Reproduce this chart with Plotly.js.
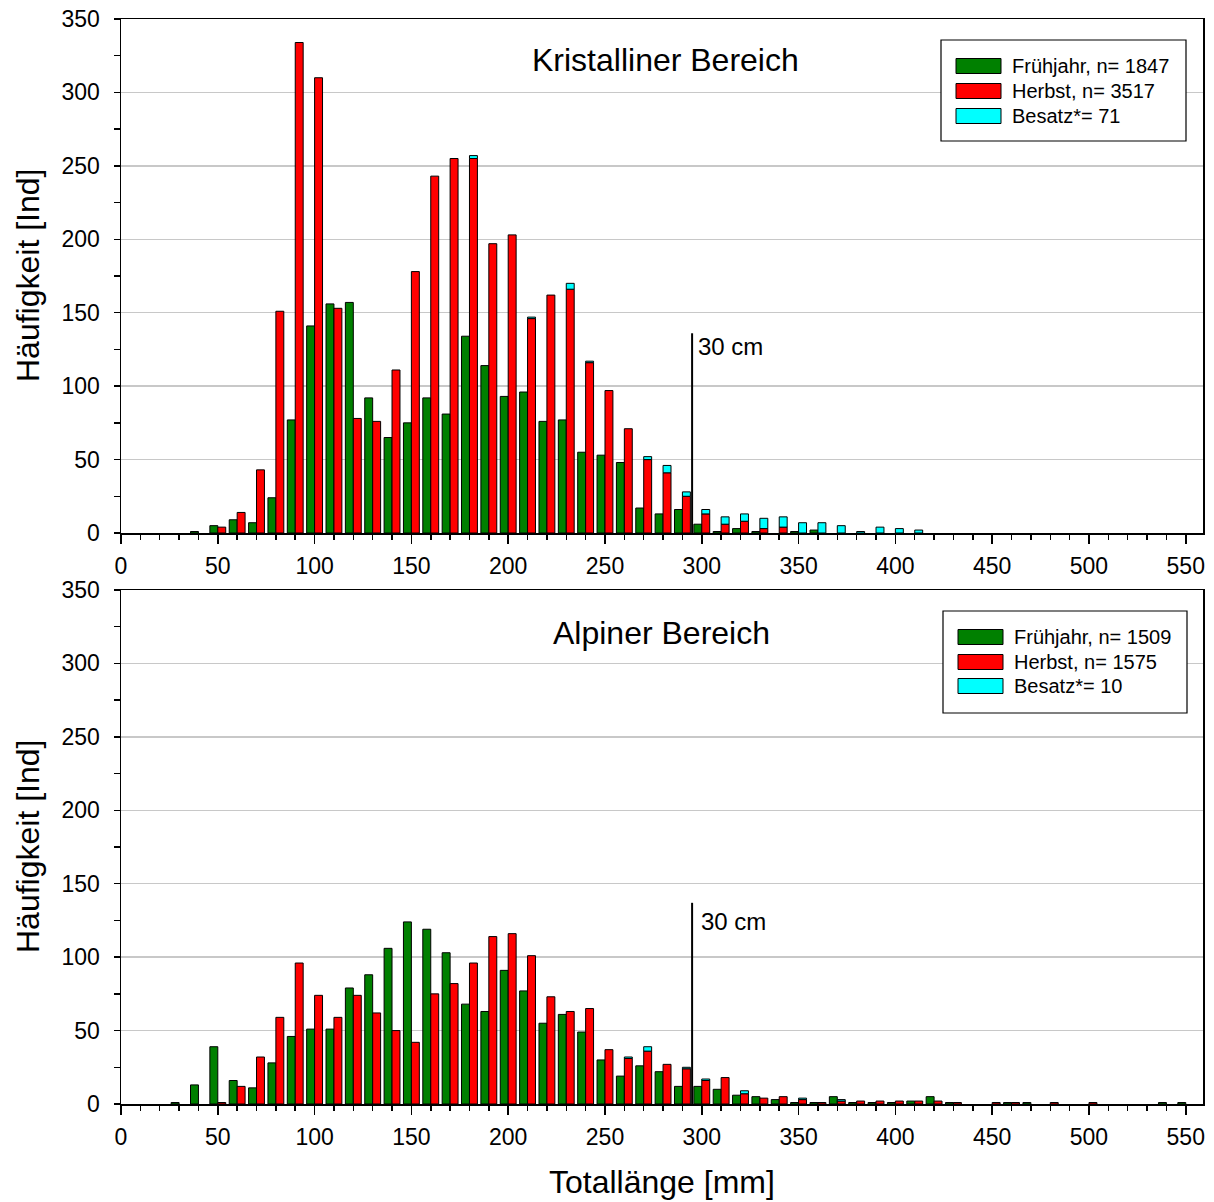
<!DOCTYPE html>
<html>
<head>
<meta charset="utf-8">
<script src="https://cdn.plot.ly/plotly-3.0.1.min.js"></script>
<style>
  html, body { margin: 0; padding: 0; background: #ffffff; }
  #chart { width: 1214px; height: 1202px; }
</style>
</head>
<body>
<div id="chart"></div>
<script>
// Längenklassen (Klassenmitte, mm)
const laengeKlassen = [30, 40, 50, 60, 70, 80, 90, 100, 110, 120, 130, 140, 150, 160, 170, 180,
  190, 200, 210, 220, 230, 240, 250, 260, 270, 280, 290, 300, 310, 320, 330, 340, 350, 360, 370,
  380, 390, 400, 410, 420, 430, 440, 450, 460, 470, 480, 490, 500, 510, 520, 530, 540, 550];

// Kristalliner Bereich – Häufigkeiten je Längenklasse
const kristFruehjahr = [0, 1, 5, 9, 7, 24, 77, 141, 156, 157, 92, 65, 75, 92, 81, 134,
  114, 93, 96, 76, 77, 55, 53, 48, 17, 13, 16, 6, 1, 3, 1, 0, 1, 2, 0,
  0, 0, 0, 0, 0, 0, 0, 0, 0, 0, 0, 0, 0, 0, 0, 0, 0, 0];
const kristHerbst = [0, 0, 4, 14, 43, 151, 334, 310, 153, 78, 76, 111, 178, 243, 255, 255,
  197, 203, 146, 162, 166, 116, 97, 71, 50, 41, 25, 13, 6, 8, 3, 4, 0, 0, 0,
  0, 0, 0, 0, 0, 0, 0, 0, 0, 0, 0, 0, 0, 0, 0, 0, 0, 0];
const kristBesatz = [0, 0, 0, 0, 0, 0, 0, 0, 0, 0, 0, 0, 0, 0, 0, 2,
  0, 0, 1, 0, 4, 1, 0, 0, 2, 5, 3, 3, 5, 5, 7, 7, 7, 7, 5,
  1, 4, 3, 2, 0, 0, 0, 0, 0, 0, 0, 0, 0, 0, 0, 0, 0, 0];

// Alpiner Bereich – Häufigkeiten je Längenklasse
const alpFruehjahr = [1, 13, 39, 16, 11, 28, 46, 51, 51, 79, 88, 106, 124, 119, 103, 68,
  63, 91, 77, 55, 61, 49, 30, 19, 26, 22, 12, 12, 10, 6, 5, 3, 1, 1, 5,
  1, 1, 1, 2, 5, 1, 0, 0, 1, 1, 0, 0, 0, 0, 0, 0, 1, 1];
const alpHerbst = [0, 0, 1, 12, 32, 59, 96, 74, 59, 74, 62, 50, 42, 75, 82, 96,
  114, 116, 101, 73, 63, 65, 37, 31, 36, 27, 24, 16, 18, 7, 4, 5, 3, 1, 2,
  2, 2, 2, 2, 2, 1, 0, 1, 1, 0, 1, 0, 1, 0, 0, 0, 0, 0];
const alpBesatz = [0, 0, 0, 0, 0, 0, 0, 0, 0, 0, 0, 0, 0, 0, 0, 0,
  0, 0, 0, 0, 0, 0, 0, 1, 3, 0, 1, 1, 0, 2, 0, 0, 1, 0, 1,
  0, 0, 0, 0, 0, 0, 0, 0, 0, 0, 0, 0, 0, 0, 0, 0, 0, 0];

// Texte
const panelTitel = ["Kristalliner Bereich", "Alpiner Bereich"];
const legendeKrist = ["Frühjahr, n= 1847", "Herbst, n= 3517", "Besatz*= 71"];
const legendeAlp = ["Frühjahr, n= 1509", "Herbst, n= 1575", "Besatz*= 10"];
const yTitel = "Häufigkeit [Ind]";
const xTitel = "Totallänge [mm]";
const grenzeMm = 295;
const grenzeText = "30 cm";

const FONT = "Liberation Sans, Arial, Helvetica, sans-serif";
const GRUEN = "#008000", ROT = "#ff0000", CYAN = "#00ffff";
const BAR_W = 4.1;

// Nullwerte nicht zeichnen
const ohneNull = arr => arr.map(v => (v > 0 ? v : null));

function balken(werte, farbe, xa, ya, offset, basis) {
  const t = {
    type: "bar",
    x: laengeKlassen,
    y: ohneNull(werte),
    xaxis: xa, yaxis: ya,
    width: BAR_W,
    offset: offset,
    marker: { color: farbe, line: { color: "#000000", width: 1 } },
    showlegend: false,
    hoverinfo: "x+y"
  };
  if (basis) t.base = basis;
  return t;
}

const data = [
  balken(kristFruehjahr, GRUEN, "x", "y", -BAR_W, null),
  balken(kristHerbst, ROT, "x", "y", 0, null),
  balken(kristBesatz, CYAN, "x", "y", 0, kristHerbst),
  balken(alpFruehjahr, GRUEN, "x2", "y2", -BAR_W, null),
  balken(alpHerbst, ROT, "x2", "y2", 0, null),
  balken(alpBesatz, CYAN, "x2", "y2", 0, alpHerbst)
];

// Pixel -> Papierkoordinaten
const L = 121, R = 1203, T = 19, B = 1104;
const px = p => (p - L) / (R - L);
const py = p => (B - p) / (B - T);

function xAchse(anchor, domain) {
  return {
    anchor: anchor, domain: domain,
    range: [0, 558.9],
    tick0: 0, dtick: 50,
    ticks: "outside", ticklen: 9, tickwidth: 1.5, tickcolor: "#000",
    minor: { tick0: 0, dtick: 10, ticks: "outside", ticklen: 5, tickwidth: 1.5, tickcolor: "#000", showgrid: false },
    showline: true, linecolor: "#000", linewidth: 1.5, mirror: true,
    showgrid: false, zeroline: false,
    tickfont: { family: FONT, size: 23, color: "#000" },
    ticklabelstandoff: 3,
    fixedrange: true
  };
}
function yAchse(anchor, domain) {
  return {
    anchor: anchor, domain: domain,
    range: [0, 350],
    tick0: 0, dtick: 50,
    ticks: "outside", ticklen: 6, tickwidth: 1.5, tickcolor: "#000",
    minor: { tick0: 0, dtick: 25, ticks: "outside", ticklen: 6, tickwidth: 1.5, tickcolor: "#000", showgrid: false },
    showline: true, linecolor: "#000", linewidth: 1.5, mirror: true,
    showgrid: true, gridcolor: "#c8c8c8", gridwidth: 1.5,
    zeroline: false,
    tickfont: { family: FONT, size: 23, color: "#000" },
    ticklabelstandoff: 9,
    fixedrange: true
  };
}

const domOben = [py(533), 1];
const domUnten = [0, py(590)];

const shapes = [];
const annotations = [];

// 30-cm-Markierung
[["x", "y", 136, 297, 127], ["x2", "y2", 137, 298.5, 124]].forEach(([xa, ya, yTop, tx, ty]) => {
  shapes.push({ type: "line", xref: xa, yref: ya, x0: grenzeMm, x1: grenzeMm, y0: 0, y1: yTop,
    line: { color: "#000", width: 2 } });
  annotations.push({ xref: xa, yref: ya, x: tx, y: ty, text: grenzeText, showarrow: false,
    xanchor: "left", yanchor: "middle", font: { family: FONT, size: 24, color: "#000" } });
});

// Panel-Überschriften
annotations.push({ xref: "paper", yref: "paper", x: px(665.5), y: py(60), text: panelTitel[0],
  showarrow: false, xanchor: "center", yanchor: "middle", font: { family: FONT, size: 32, color: "#000" } });
annotations.push({ xref: "paper", yref: "paper", x: px(661.5), y: py(633), text: panelTitel[1],
  showarrow: false, xanchor: "center", yanchor: "middle", font: { family: FONT, size: 32, color: "#000" } });

// Legenden
function legende(box, swX, txtX, zeilen, texte) {
  shapes.push({ type: "rect", xref: "paper", yref: "paper",
    x0: px(box[0]), x1: px(box[1]), y0: py(box[3]), y1: py(box[2]),
    line: { color: "#000", width: 1.2 }, fillcolor: "#ffffff", layer: "above" });
  const farben = [GRUEN, ROT, CYAN];
  zeilen.forEach((yc, i) => {
    shapes.push({ type: "rect", xref: "paper", yref: "paper",
      x0: px(swX), x1: px(swX + 45), y0: py(yc + 7.5), y1: py(yc - 7.5),
      line: { color: "#000", width: 1 }, fillcolor: farben[i], layer: "above" });
    annotations.push({ xref: "paper", yref: "paper", x: px(txtX), y: py(yc), text: texte[i],
      showarrow: false, xanchor: "left", yanchor: "middle",
      font: { family: FONT, size: 20, color: "#000" } });
  });
}
legende([941, 1186, 40, 141], 956, 1010, [66, 91, 116], legendeKrist);
legende([943, 1187, 611, 713], 958, 1012, [637, 662, 686], legendeAlp);

// Achsentitel
[276, 847].forEach(yc => {
  annotations.push({ xref: "paper", yref: "paper", x: px(28), y: py(yc), text: yTitel,
    textangle: -90, showarrow: false, xanchor: "center", yanchor: "middle",
    font: { family: FONT, size: 32, color: "#000" } });
});
annotations.push({ xref: "paper", yref: "paper", x: px(662), y: py(1182), text: xTitel,
  showarrow: false, xanchor: "center", yanchor: "middle",
  font: { family: FONT, size: 32, color: "#000" } });

const layout = {
  width: 1214, height: 1202,
  margin: { l: L, r: 1214 - R, t: T, b: 1202 - B, pad: 0 },
  paper_bgcolor: "#ffffff", plot_bgcolor: "#ffffff",
  barmode: "overlay",
  showlegend: false,
  font: { family: FONT, color: "#000" },
  xaxis: xAchse("y", [0, 1]),
  yaxis: yAchse("x", domOben),
  xaxis2: xAchse("y2", [0, 1]),
  yaxis2: yAchse("x2", domUnten),
  shapes: shapes,
  annotations: annotations
};

Plotly.newPlot("chart", data, layout, { displayModeBar: false, staticPlot: true });
</script>
</body>
</html>
